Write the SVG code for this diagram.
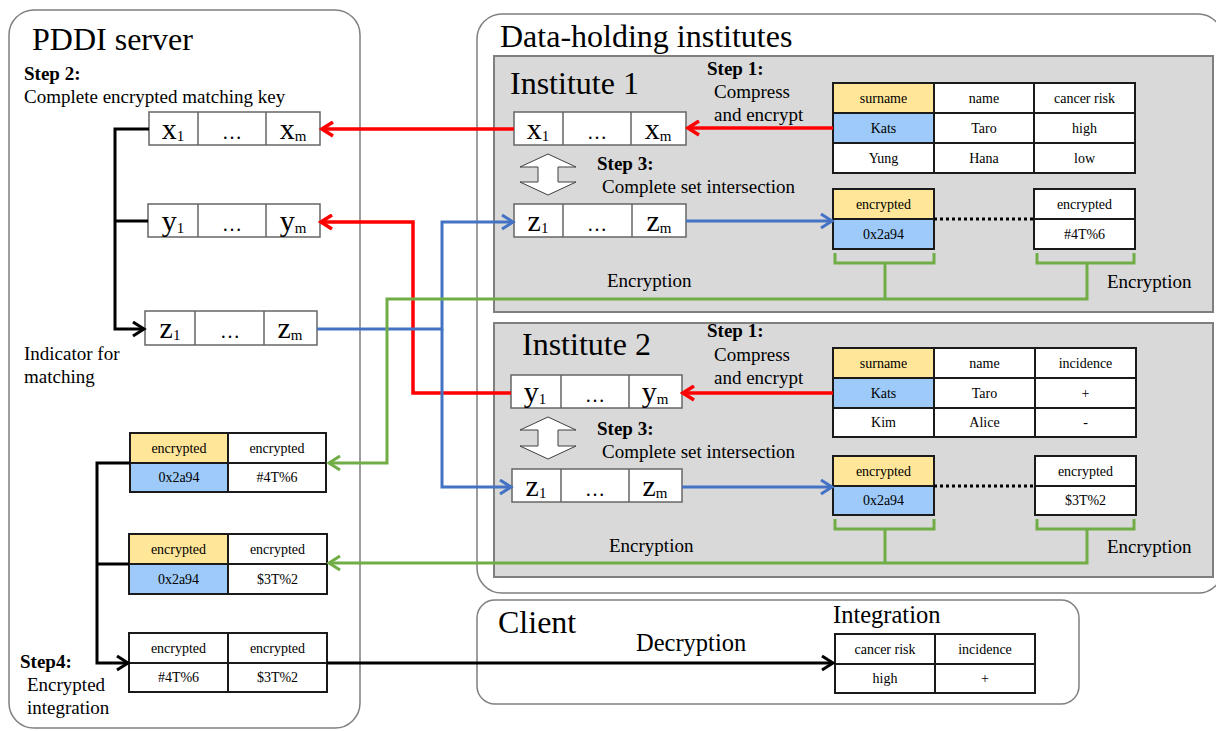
<svg xmlns="http://www.w3.org/2000/svg" width="1216" height="731" viewBox="0 0 1216 731">
<style>
text{font-family:"Liberation Serif","Times New Roman",serif;fill:#000}
.h{font-size:32px}
.s{font-size:19px}
.b{font-size:19px;font-weight:bold}
.c{font-size:14px;text-anchor:middle}
.v{font-size:30px;text-anchor:middle}
.sub{font-size:15px}
.el{font-size:20px;text-anchor:middle}
.cont{fill:#fff;stroke:#7f7f7f;stroke-width:1.5}
.inst{fill:#d9d9d9;stroke:#7f7f7f;stroke-width:2}
.kb{fill:#fff;stroke:#666;stroke-width:1.5}
.tb{fill:#fff;stroke:#1a1a1a;stroke-width:2}
.y{fill:#ffe699;stroke:#1a1a1a;stroke-width:2}
.bl{fill:#9dcaf8;stroke:#1a1a1a;stroke-width:2}
.red{fill:none;stroke:#ff0000;stroke-width:3.5}
.blue{fill:none;stroke:#4472c4;stroke-width:3}
.green{fill:none;stroke:#70ad47;stroke-width:3}
.blk{fill:none;stroke:#000;stroke-width:3}
.dbl{fill:#fff;stroke:#404040;stroke-width:1}
</style>
<defs>
<marker id="mr" markerWidth="17" markerHeight="17" refX="14" refY="8.5" orient="auto" markerUnits="userSpaceOnUse"><path d="M3,1.5 L14,8.5 L3,15.5" fill="none" stroke="#ff0000" stroke-width="3.5"/></marker>
<marker id="mb" markerWidth="17" markerHeight="17" refX="14" refY="8.5" orient="auto" markerUnits="userSpaceOnUse"><path d="M3,1.5 L14,8.5 L3,15.5" fill="none" stroke="#4472c4" stroke-width="3"/></marker>
<marker id="mg" markerWidth="17" markerHeight="17" refX="14" refY="8.5" orient="auto" markerUnits="userSpaceOnUse"><path d="M3,1.5 L14,8.5 L3,15.5" fill="none" stroke="#70ad47" stroke-width="3"/></marker>
<marker id="mk" markerWidth="17" markerHeight="17" refX="14" refY="8.5" orient="auto" markerUnits="userSpaceOnUse"><path d="M3,1.5 L14,8.5 L3,15.5" fill="none" stroke="#000" stroke-width="3"/></marker>
</defs>
<rect width="1216" height="731" fill="#fff"/>

<!-- containers -->
<g id="pddi-server">
<rect class="cont" x="9" y="10" width="351" height="718" rx="25"/>
<text class="h" x="32" y="50">PDDI server</text>
<text class="b" x="24" y="80">Step 2:</text>
<text class="s" x="24" y="103">Complete encrypted matching key</text>
<text class="s" x="24" y="360">Indicator for</text>
<text class="s" x="24" y="383">matching</text>
<text class="b" x="20" y="668">Step4:</text>
<text class="s" x="27" y="691">Encrypted</text>
<text class="s" x="27" y="714">integration</text>
</g>
<g id="data-holding-institutes">
<rect class="cont" x="477" y="14" width="746" height="579" rx="25"/>
<text class="h" x="500" y="47">Data-holding institutes</text>
</g>
<g id="institute-1">
<rect class="inst" x="494" y="56" width="719" height="256"/>
<text class="h" x="510" y="94">Institute 1</text>
<text class="b" x="707" y="75">Step 1:</text>
<text class="s" x="714" y="98">Compress</text>
<text class="s" x="714" y="121">and encrypt</text>
<text class="b" x="597" y="170">Step 3:</text>
<text class="s" x="602" y="193">Complete set intersection</text>
<text class="s" x="607" y="287">Encryption</text>
<text class="s" x="1107" y="288">Encryption</text>
</g>
<g id="institute-2">
<rect class="inst" x="494" y="323" width="719" height="254"/>
<text class="h" x="522" y="355">Institute 2</text>
<text class="b" x="707" y="337">Step 1:</text>
<text class="s" x="714" y="361">Compress</text>
<text class="s" x="714" y="384">and encrypt</text>
<text class="b" x="597" y="435">Step 3:</text>
<text class="s" x="602" y="458">Complete set intersection</text>
<text class="s" x="609" y="552">Encryption</text>
<text class="s" x="1107" y="553">Encryption</text>
</g>
<g id="client">
<rect class="cont" x="477" y="600" width="602" height="104" rx="18"/>
<text class="h" x="498" y="633">Client</text>
<text x="636" y="651" font-size="24.5">Decryption</text>
<text x="833" y="623" font-size="24.5">Integration</text>
</g>

<!-- key boxes -->
<g id="pddi-x">
<rect class="kb" x="149" y="112" width="171" height="33"/>
<path class="kb" d="M198,112 V145 M266,112 V145"/>
<text class="v" x="173" y="139">x<tspan class="sub" dy="2">1</tspan></text>
<text class="el" x="232" y="139">…</text>
<text class="v" x="293" y="139">x<tspan class="sub" dy="2">m</tspan></text>
</g>
<g id="pddi-y">
<rect class="kb" x="148" y="204" width="172" height="33"/>
<path class="kb" d="M198,204 V237 M266,204 V237"/>
<text class="v" x="173" y="231">y<tspan class="sub" dy="2">1</tspan></text>
<text class="el" x="232" y="231">…</text>
<text class="v" x="293" y="231">y<tspan class="sub" dy="2">m</tspan></text>
</g>
<g id="pddi-z">
<rect class="kb" x="145" y="311" width="172" height="34"/>
<path class="kb" d="M195,311 V345 M264,311 V345"/>
<text class="v" x="170" y="338">z<tspan class="sub" dy="2">1</tspan></text>
<text class="el" x="230" y="338">…</text>
<text class="v" x="290" y="338">z<tspan class="sub" dy="2">m</tspan></text>
</g>
<g id="inst1-x">
<rect class="kb" x="514" y="112" width="172" height="33"/>
<path class="kb" d="M563,112 V145 M631,112 V145"/>
<text class="v" x="538" y="139">x<tspan class="sub" dy="2">1</tspan></text>
<text class="el" x="597" y="139">…</text>
<text class="v" x="658" y="139">x<tspan class="sub" dy="2">m</tspan></text>
</g>
<g id="inst1-z">
<rect class="kb" x="514" y="204" width="172" height="33"/>
<path class="kb" d="M563,204 V237 M632,204 V237"/>
<text class="v" x="538" y="231">z<tspan class="sub" dy="2">1</tspan></text>
<text class="el" x="597" y="231">…</text>
<text class="v" x="659" y="231">z<tspan class="sub" dy="2">m</tspan></text>
</g>
<g id="inst2-y">
<rect class="kb" x="511" y="375" width="171" height="33"/>
<path class="kb" d="M561,375 V408 M629,375 V408"/>
<text class="v" x="535" y="402">y<tspan class="sub" dy="2">1</tspan></text>
<text class="el" x="595" y="402">…</text>
<text class="v" x="655" y="402">y<tspan class="sub" dy="2">m</tspan></text>
</g>
<g id="inst2-z">
<rect class="kb" x="512" y="469" width="170" height="33"/>
<path class="kb" d="M561,469 V502 M629,469 V502"/>
<text class="v" x="536" y="496">z<tspan class="sub" dy="2">1</tspan></text>
<text class="el" x="595" y="496">…</text>
<text class="v" x="655" y="496">z<tspan class="sub" dy="2">m</tspan></text>
</g>
<g id="inst1-intersect">
<polygon class="dbl" points="548,154 576,167 558,167 558,182 576,182 548,195 520,182 538,182 538,167 520,167"/>
</g>
<g id="inst2-intersect">
<polygon class="dbl" points="548,417 576,430 558,430 558,446 576,446 548,459 520,446 538,446 538,430 520,430"/>
</g>

<!-- institute 1 tables -->
<g id="inst1-table">
<rect class="y" x="833" y="83" width="101" height="30"/>
<rect class="tb" x="934" y="83" width="100" height="30"/>
<rect class="tb" x="1034" y="83" width="101" height="30"/>
<rect class="bl" x="833" y="113" width="101" height="30"/>
<rect class="tb" x="934" y="113" width="100" height="30"/>
<rect class="tb" x="1034" y="113" width="101" height="30"/>
<rect class="tb" x="833" y="143" width="101" height="30"/>
<rect class="tb" x="934" y="143" width="100" height="30"/>
<rect class="tb" x="1034" y="143" width="101" height="30"/>
<text class="c" x="883.5" y="103">surname</text><text class="c" x="984" y="103">name</text><text class="c" x="1084.5" y="103">cancer risk</text>
<text class="c" x="883.5" y="133">Kats</text><text class="c" x="984" y="133">Taro</text><text class="c" x="1084.5" y="133">high</text>
<text class="c" x="883.5" y="163">Yung</text><text class="c" x="984" y="163">Hana</text><text class="c" x="1084.5" y="163">low</text>
</g>
<g id="inst1-enc-left">
<rect class="y" x="833" y="189" width="101" height="30"/>
<rect class="bl" x="833" y="219" width="101" height="30"/>
<text class="c" x="883.5" y="209">encrypted</text><text class="c" x="883.5" y="239">0x2a94</text>
</g>
<g id="inst1-enc-right">
<rect class="tb" x="1034" y="189" width="101" height="30"/>
<rect class="tb" x="1034" y="219" width="101" height="30"/>
<text class="c" x="1084.5" y="209">encrypted</text><text class="c" x="1084.5" y="239">#4T%6</text>
</g>

<!-- institute 2 tables -->
<g id="inst2-table">
<rect class="y" x="833" y="348" width="101" height="30"/>
<rect class="tb" x="934" y="348" width="101" height="30"/>
<rect class="tb" x="1035" y="348" width="101" height="30"/>
<rect class="bl" x="833" y="378" width="101" height="30"/>
<rect class="tb" x="934" y="378" width="101" height="30"/>
<rect class="tb" x="1035" y="378" width="101" height="30"/>
<rect class="tb" x="833" y="408" width="101" height="29"/>
<rect class="tb" x="934" y="408" width="101" height="29"/>
<rect class="tb" x="1035" y="408" width="101" height="29"/>
<text class="c" x="883.5" y="368">surname</text><text class="c" x="984.5" y="368">name</text><text class="c" x="1085.5" y="368">incidence</text>
<text class="c" x="883.5" y="398">Kats</text><text class="c" x="984.5" y="398">Taro</text><text class="c" x="1085.5" y="398">+</text>
<text class="c" x="883.5" y="427">Kim</text><text class="c" x="984.5" y="427">Alice</text><text class="c" x="1085.5" y="427">-</text>
</g>
<g id="inst2-enc-left">
<rect class="y" x="833" y="456" width="101" height="30"/>
<rect class="bl" x="833" y="486" width="101" height="29"/>
<text class="c" x="883.5" y="476">encrypted</text><text class="c" x="883.5" y="505">0x2a94</text>
</g>
<g id="inst2-enc-right">
<rect class="tb" x="1035" y="456" width="101" height="30"/>
<rect class="tb" x="1035" y="486" width="101" height="29"/>
<text class="c" x="1085.5" y="476">encrypted</text><text class="c" x="1085.5" y="505">$3T%2</text>
</g>

<!-- PDDI tables -->
<g id="pddi-enc-1">
<rect class="y" x="130" y="433" width="98" height="30"/>
<rect class="tb" x="228" y="433" width="98" height="30"/>
<rect class="bl" x="130" y="463" width="98" height="29"/>
<rect class="tb" x="228" y="463" width="98" height="29"/>
<text class="c" x="179" y="453">encrypted</text><text class="c" x="277" y="453">encrypted</text>
<text class="c" x="179" y="482">0x2a94</text><text class="c" x="277" y="482">#4T%6</text>
</g>
<g id="pddi-enc-2">
<rect class="y" x="129" y="534" width="99" height="30"/>
<rect class="tb" x="228" y="534" width="99" height="30"/>
<rect class="bl" x="129" y="564" width="99" height="30"/>
<rect class="tb" x="228" y="564" width="99" height="30"/>
<text class="c" x="178.5" y="554">encrypted</text><text class="c" x="277.5" y="554">encrypted</text>
<text class="c" x="178.5" y="584">0x2a94</text><text class="c" x="277.5" y="584">$3T%2</text>
</g>
<g id="pddi-enc-integrated">
<rect class="tb" x="129" y="633" width="99" height="30"/>
<rect class="tb" x="228" y="633" width="99" height="30"/>
<rect class="tb" x="129" y="663" width="99" height="29"/>
<rect class="tb" x="228" y="663" width="99" height="29"/>
<text class="c" x="178.5" y="653">encrypted</text><text class="c" x="277.5" y="653">encrypted</text>
<text class="c" x="178.5" y="682">#4T%6</text><text class="c" x="277.5" y="682">$3T%2</text>
</g>
<g id="client-table">
<rect class="tb" x="835" y="634" width="100" height="30"/>
<rect class="tb" x="935" y="634" width="100" height="30"/>
<rect class="tb" x="835" y="664" width="100" height="29"/>
<rect class="tb" x="935" y="664" width="100" height="29"/>
<text class="c" x="885" y="654" font-size="13.5">cancer risk</text><text class="c" x="985" y="654" font-size="13.5">incidence</text>
<text class="c" x="885" y="683" font-size="13.5">high</text><text class="c" x="985" y="683" font-size="13.5">+</text>
</g>

<!-- connectors -->
<g id="connectors">
<path class="blk" d="M149,129 H115 V329 H144" marker-end="url(#mk)"/>
<path class="blk" d="M115,221 H148"/>
<path class="blk" d="M130,463 H97 V663 H128" marker-end="url(#mk)"/>
<path class="blk" d="M97,564 H129"/>
<path class="blk" d="M327,663 H833" marker-end="url(#mk)"/>
<path class="red" d="M833,128 H688" marker-end="url(#mr)"/>
<path class="red" d="M514,129 H322" marker-end="url(#mr)"/>
<path class="red" d="M833,393 H683" marker-end="url(#mr)"/>
<path class="red" d="M511,393 H413 V222 H321" marker-end="url(#mr)"/>
<path class="blue" d="M317,329 H442 V222 H513" marker-end="url(#mb)"/>
<path class="blue" d="M442,329 V487 H511" marker-end="url(#mb)"/>
<path class="blue" d="M686,221 H832" marker-end="url(#mb)"/>
<path class="blue" d="M682,487 H832" marker-end="url(#mb)"/>
<path d="M934,219 H1034" fill="none" stroke="#000" stroke-width="3" stroke-dasharray="3,3"/>
<path d="M934,486 H1035" fill="none" stroke="#000" stroke-width="3" stroke-dasharray="3,3"/>
<path class="green" d="M835,253 V263 H934 V253 M1037,253 V263 H1134 V253 M885,263 V299"/>
<path class="green" d="M1087,263 V299 H387 V463 H329" marker-end="url(#mg)"/>
<path class="green" d="M835,519 V529 H934 V519 M1037,519 V529 H1134 V519 M885,529 V563"/>
<path class="green" d="M1087,529 V563 H329" marker-end="url(#mg)"/>
</g>
</svg>
